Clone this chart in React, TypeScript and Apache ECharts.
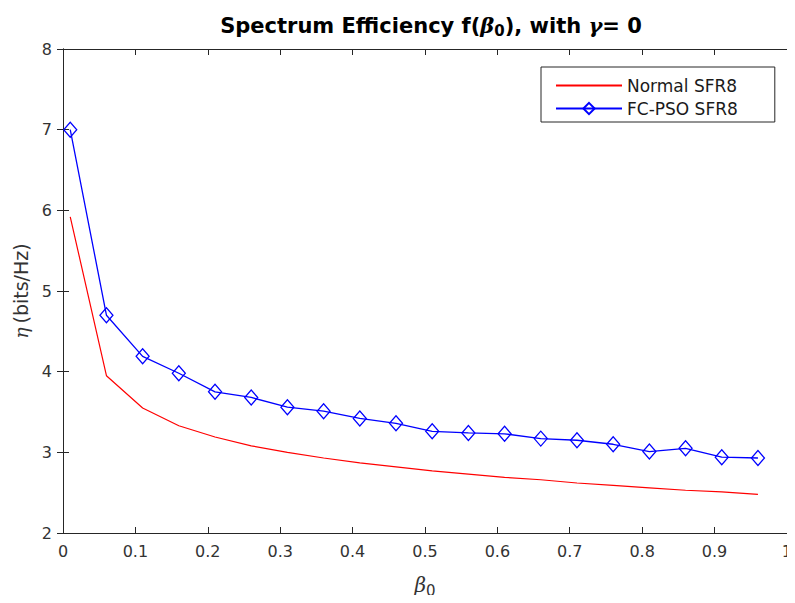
import React, { useEffect, useRef } from "react";
import * as echarts from "echarts";

const betaValues = [0.01, 0.06, 0.11, 0.16, 0.21, 0.26, 0.31, 0.36, 0.41, 0.46, 0.51, 0.56, 0.61, 0.66, 0.71, 0.76, 0.81, 0.86, 0.91, 0.96];
const normalSFR8 = [5.92, 3.95, 3.55, 3.33, 3.19, 3.08, 3.0, 2.93, 2.87, 2.82, 2.77, 2.73, 2.69, 2.66, 2.62, 2.59, 2.56, 2.53, 2.51, 2.48];
const fcpsoSFR8 = [7.0, 4.7, 4.19, 3.98, 3.75, 3.68, 3.56, 3.51, 3.42, 3.36, 3.26, 3.24, 3.23, 3.17, 3.15, 3.1, 3.01, 3.05, 2.94, 2.93];

const FONT = "DejaVu Sans, Liberation Sans, sans-serif";
const SERIF = "DejaVu Serif, serif";
const AX = "#262626";
const LBL = "#333333";

export default function App() {
  const ref = useRef<HTMLDivElement>(null);
  useEffect(() => {
    if (!ref.current) return;
    const chart = echarts.init(ref.current, null, { renderer: "svg" });
    const axisCommon = {
      axisLine: { show: true, lineStyle: { color: AX, width: 1 } },
      axisTick: { show: true, inside: true, length: 6, lineStyle: { color: AX } },
      splitLine: { show: false },
    };
    chart.setOption({
      animation: false,
      backgroundColor: "#fff",
      textStyle: { fontFamily: FONT },
      title: {
        text: "{a|Spectrum Efficiency f(}{b|β}{s|0}{a|), with }{b|γ}{a|= 0}",
        left: 426,
        textAlign: "center",
        top: 8,
        textStyle: {
          rich: {
            a: { fontFamily: FONT, fontWeight: "bold", fontSize: 21, color: "#000" },
            b: { fontFamily: SERIF, fontStyle: "italic", fontSize: 21, color: "#000" },
            s: { fontFamily: FONT, fontWeight: "bold", fontSize: 15, color: "#000", verticalAlign: "bottom", padding: [10, 0, 0, 0] },
          },
        },
      },
      legend: {
        left: 541,
        top: 67,
        orient: "vertical",
        backgroundColor: "#fff",
        borderColor: AX,
        borderWidth: 1,
        borderRadius: 0,
        padding: [10, 37, 5, 14],
        itemWidth: 66,
        itemHeight: 14,
        itemGap: 6,
        textStyle: { fontFamily: FONT, fontSize: 17, color: "#1a1a1a" },
        data: [
          { name: "Normal SFR8", itemStyle: { opacity: 0 } },
          { name: "FC-PSO SFR8" },
        ],
      },
      grid: { left: 63, right: 3, top: 49, bottom: 69, containLabel: false },
      xAxis: [
        {
          type: "value",
          min: 0,
          max: 1,
          interval: 0.1,
          position: "bottom",
          ...axisCommon,
          axisLabel: { fontFamily: FONT, fontSize: 16, color: LBL, margin: 10 },
          name: "{b|β}{s|0}",
          nameLocation: "middle",
          nameGap: 38,
          nameTextStyle: {
            rich: {
              b: { fontFamily: SERIF, fontStyle: "italic", fontSize: 20, color: LBL },
              s: { fontFamily: FONT, fontSize: 15, color: LBL, padding: [12, 0, 0, 0] },
            },
          },
        },
        {
          type: "value",
          min: 0,
          max: 1,
          interval: 0.1,
          position: "top",
          ...axisCommon,
          axisLabel: { show: false },
        },
      ],
      yAxis: [
        {
          type: "value",
          min: 2,
          max: 8,
          interval: 1,
          position: "left",
          ...axisCommon,
          axisLabel: { fontFamily: FONT, fontSize: 16, color: LBL, margin: 11, padding: [6, 0, 0, 0] },
          name: "{b|η} {a|(bits/Hz)}",
          nameLocation: "middle",
          nameGap: 33,
          nameTextStyle: {
            rich: {
              b: { fontFamily: SERIF, fontStyle: "italic", fontSize: 19, color: LBL },
              a: { fontFamily: FONT, fontSize: 19, color: LBL },
            },
          },
        },
        {
          type: "value",
          min: 2,
          max: 8,
          interval: 1,
          position: "right",
          ...axisCommon,
          axisLabel: { show: false },
        },
      ],
      series: [
        {
          name: "Normal SFR8",
          type: "line",
          data: betaValues.map((b, i) => [b, normalSFR8[i]]),
          showSymbol: false,
          symbol: "none",
          itemStyle: { color: "#ff0000" },
          lineStyle: { color: "#ff0000", width: 1.2 },
        },
        {
          name: "FC-PSO SFR8",
          type: "line",
          data: betaValues.map((b, i) => [b, fcpsoSFR8[i]]),
          symbol: "diamond",
          symbolSize: [13, 15],
          itemStyle: { color: "rgba(255,255,255,0)", borderColor: "#0000ff", borderWidth: 1.3 },
          lineStyle: { color: "#0000ff", width: 1.3 },
          z: 3,
        },
      ],
    });
    return () => chart.dispose();
  }, []);
  return <div ref={ref} style={{ width: 795, height: 603, margin: -8 }} />;
}
